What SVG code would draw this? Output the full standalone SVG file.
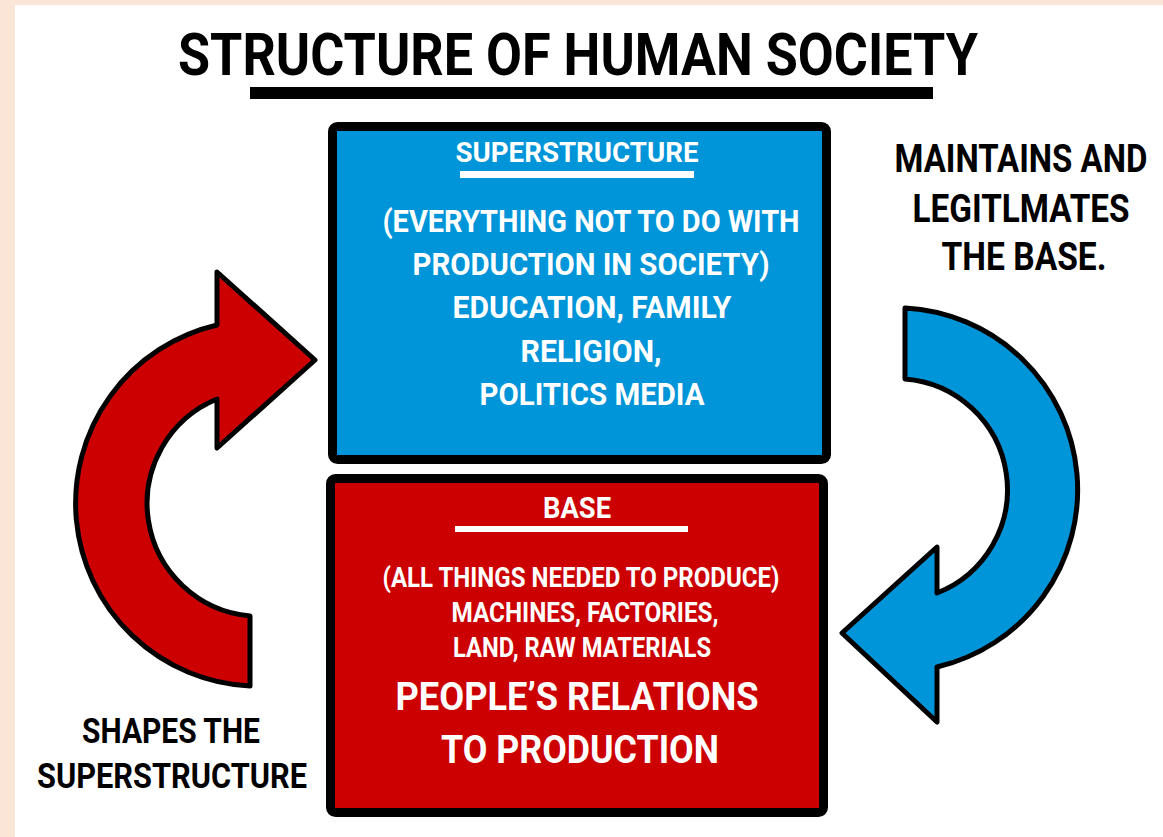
<svg xmlns="http://www.w3.org/2000/svg" width="1163" height="837" viewBox="0 0 1163 837">
<style>
.t{font-family:Roboto,"Liberation Sans",Arial,sans-serif;font-weight:700;text-anchor:middle}
.k{fill:#000}
.w{fill:#fff}
.box{stroke:#000;stroke-width:9}
.arr{stroke:#000;stroke-width:5;stroke-linejoin:round}
</style>
<rect x="0" y="0" width="1163" height="837" fill="#fbe5d6"/>
<rect x="15" y="5" width="1148" height="832" fill="#fff"/>
<g id="title">
<text class="t k" x="578" y="75" font-size="59" textLength="800" lengthAdjust="spacingAndGlyphs">STRUCTURE OF HUMAN SOCIETY</text>
<rect x="250" y="87" width="683" height="12" fill="#000"/>
</g>
<g id="connectors">
<path id="red-arrow" class="arr" fill="#cc0000" d="M250,616 L250,686 A183,183 0 0 1 217,325 L217,272 L315,360 L217,448 L217,399 A113,113 0 0 0 250,616 Z"/>
<path id="blue-arrow" class="arr" fill="#0094d8" d="M905,308 L905,379 A111,111 0 0 1 937,593 L937,547 L842,633 L937,722 L937,667 A182,182 0 0 0 905,308 Z"/>
</g>
<g id="superstructure">
<rect class="box" x="332.5" y="126.5" width="494" height="333" rx="5" fill="#0094d8"/>
<text class="t w" x="577" y="162" font-size="28" textLength="243" lengthAdjust="spacingAndGlyphs">SUPERSTRUCTURE</text>
<rect x="460" y="171" width="234" height="7" fill="#fff"/>
<text class="t w" x="591" y="232" font-size="32" textLength="417" lengthAdjust="spacingAndGlyphs">(EVERYTHING NOT TO DO WITH</text>
<text class="t w" x="591" y="275" font-size="32" textLength="357" lengthAdjust="spacingAndGlyphs">PRODUCTION IN SOCIETY)</text>
<text class="t w" x="592" y="318" font-size="32" textLength="279" lengthAdjust="spacingAndGlyphs">EDUCATION, FAMILY</text>
<text class="t w" x="591" y="362" font-size="32" textLength="141" lengthAdjust="spacingAndGlyphs">RELIGION,</text>
<text class="t w" x="592" y="405" font-size="32" textLength="225" lengthAdjust="spacingAndGlyphs">POLITICS MEDIA</text>
</g>
<g id="base">
<rect class="box" x="330.5" y="478.5" width="493" height="334" rx="5" fill="#cc0000"/>
<text class="t w" x="577" y="518" font-size="29.5" textLength="68" lengthAdjust="spacingAndGlyphs">BASE</text>
<rect x="455" y="526" width="233" height="6" fill="#fff"/>
<text class="t w" x="581" y="587" font-size="27" textLength="397" lengthAdjust="spacingAndGlyphs">(ALL THINGS NEEDED TO PRODUCE)</text>
<text class="t w" x="585" y="622" font-size="27" textLength="267" lengthAdjust="spacingAndGlyphs">MACHINES, FACTORIES,</text>
<text class="t w" x="582" y="657" font-size="27" textLength="258" lengthAdjust="spacingAndGlyphs">LAND, RAW MATERIALS</text>
<text class="t w" x="577" y="710" font-size="38.5" textLength="363" lengthAdjust="spacingAndGlyphs">PEOPLE’S RELATIONS</text>
<text class="t w" x="580" y="763" font-size="39" textLength="278" lengthAdjust="spacingAndGlyphs">TO PRODUCTION</text>
</g>
<g id="label-maintains" transform="translate(1021,0) scale(0.88,1)">
<text class="t k" x="0" y="172" font-size="38" textLength="287.5" lengthAdjust="spacingAndGlyphs">MAINTAINS AND</text>
<text class="t k" x="0" y="222" font-size="38" textLength="246.6" lengthAdjust="spacingAndGlyphs">LEGITLMATES</text>
<text class="t k" x="3.4" y="270" font-size="38" textLength="187.5" lengthAdjust="spacingAndGlyphs">THE BASE.</text>
</g>
<g id="label-shapes">
<text class="t k" x="171" y="743" font-size="35" textLength="178" lengthAdjust="spacingAndGlyphs">SHAPES THE</text>
<text class="t k" x="172" y="788" font-size="35" textLength="270" lengthAdjust="spacingAndGlyphs">SUPERSTRUCTURE</text>
</g>
</svg>
